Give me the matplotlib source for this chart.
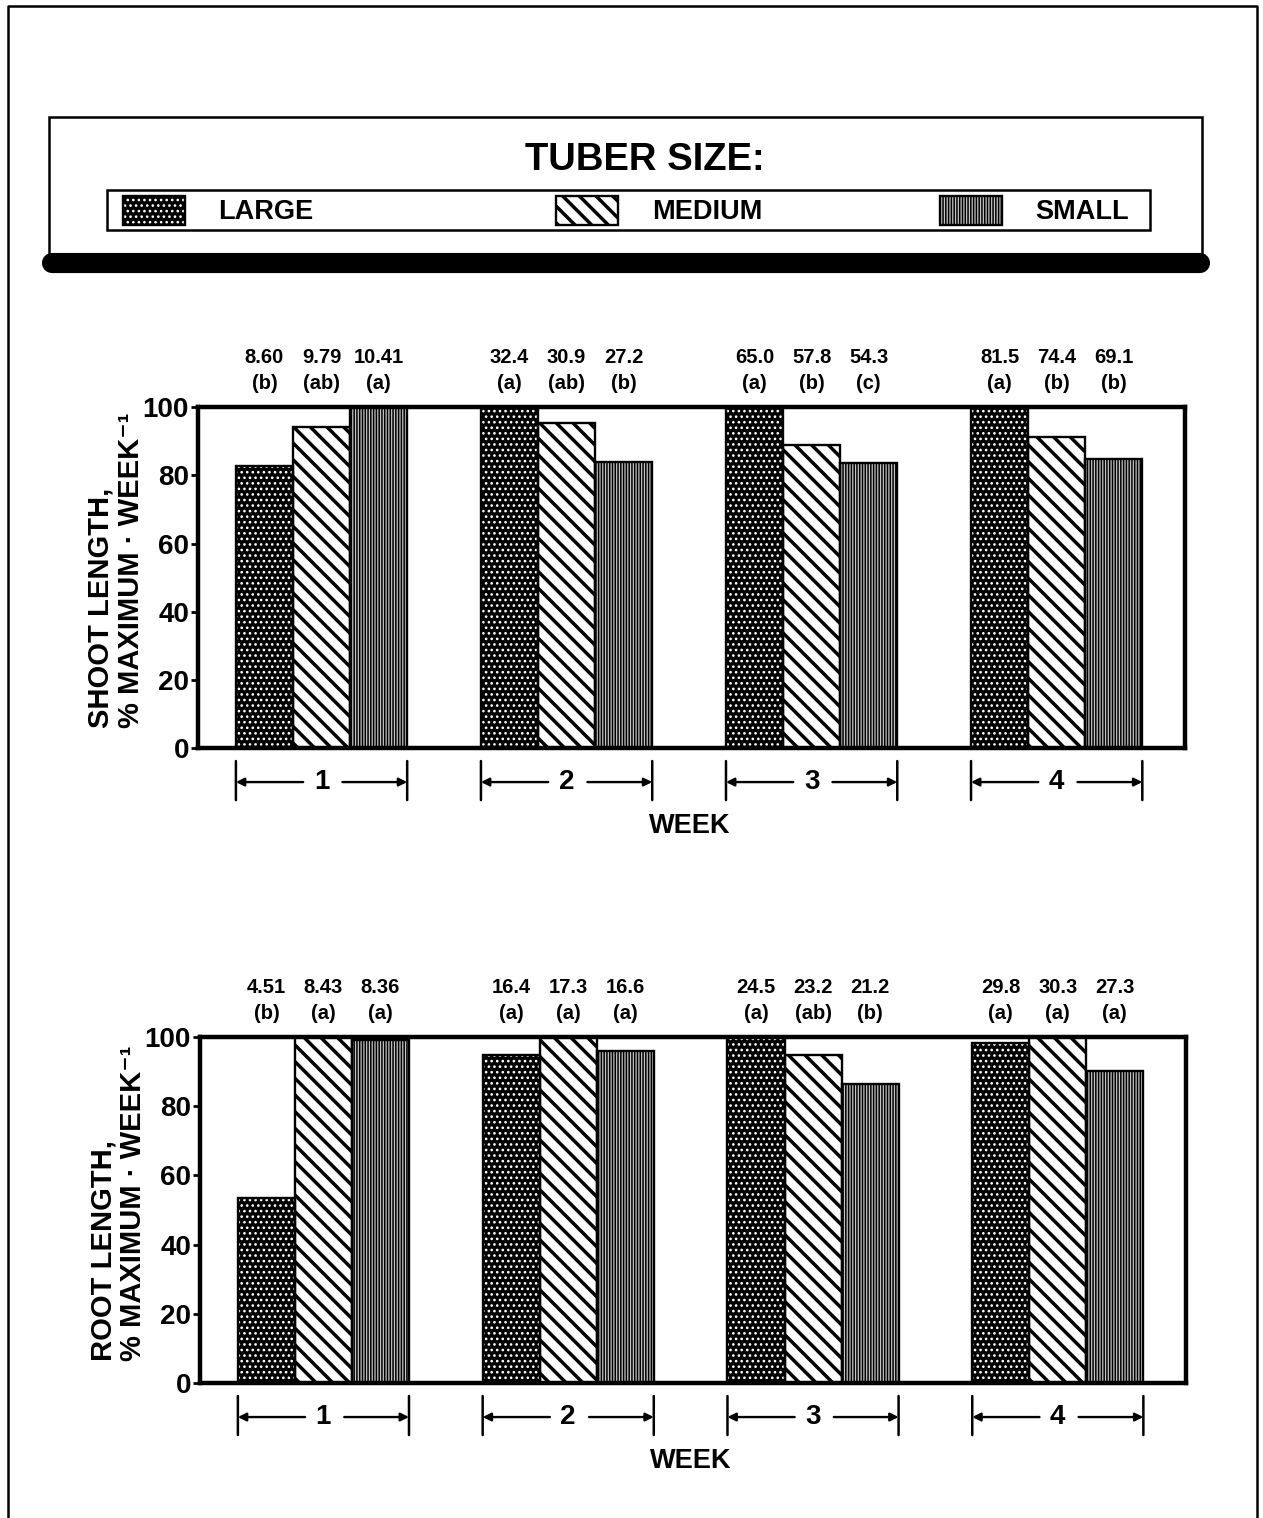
import numpy as np
import matplotlib.pyplot as plt
import matplotlib.transforms as mtransforms
from matplotlib.patches import Rectangle

plt.rcParams['font.family'] = ['Liberation Sans', 'DejaVu Sans']
plt.rcParams['font.weight'] = 'bold'
plt.rcParams['axes.labelweight'] = 'bold'

weeks = ['1', '2', '3', '4']
sizes = ['LARGE', 'MEDIUM', 'SMALL']

# growth rates as printed above the bars
shoot_large = ['8.60', '32.4', '65.0', '81.5']
shoot_medium = ['9.79', '30.9', '57.8', '74.4']
shoot_small = ['10.41', '27.2', '54.3', '69.1']
shoot_sig_large = ['b', 'a', 'a', 'a']
shoot_sig_medium = ['ab', 'ab', 'b', 'b']
shoot_sig_small = ['a', 'b', 'c', 'b']

root_large = ['4.51', '16.4', '24.5', '29.8']
root_medium = ['8.43', '17.3', '23.2', '30.3']
root_small = ['8.36', '16.6', '21.2', '27.3']
root_sig_large = ['b', 'a', 'a', 'a']
root_sig_medium = ['a', 'a', 'ab', 'a']
root_sig_small = ['a', 'a', 'b', 'a']

# fill styles: dotted black, diagonal lines, fine vertical lines
STYLES = [
    dict(facecolor='black', edgecolor='white', hatch='...', hlw=1.1),
    dict(facecolor='white', edgecolor='black', hatch='\\\\', hlw=2.5),
    dict(facecolor='#c4c4c4', edgecolor='black', hatch='||||||', hlw=1.1),
]

W = 0.233


def texture(patch, k):
    if hasattr(patch, 'set_hatch_linewidth'):
        patch.set_hatch_linewidth(STYLES[k]['hlw'])


def panel(ax, raw, sig, ylabel):
    vals = np.array([[float(v) for v in row] for row in raw])
    pct = vals / vals.max(axis=0) * 100
    x = np.arange(len(weeks))
    for k in range(3):
        s = STYLES[k]
        xs = x + (k - 1) * W
        bars = ax.bar(xs, pct[k], W, color=s['facecolor'], edgecolor=s['edgecolor'],
                      hatch=s['hatch'], linewidth=0, zorder=2)
        for b in bars:
            texture(b, k)
        ax.bar(xs, pct[k], W, fill=False, edgecolor='black', linewidth=1.7, zorder=3)
        for xi, txt, lt in zip(xs, raw[k], sig[k]):
            ax.annotate(txt, xy=(xi, 1.0), xycoords=('data', 'axes fraction'),
                        xytext=(0, 36), textcoords='offset points',
                        ha='center', va='center', fontsize=14.5)
            ax.annotate('(%s)' % lt, xy=(xi, 1.0), xycoords=('data', 'axes fraction'),
                        xytext=(0, 17), textcoords='offset points',
                        ha='center', va='center', fontsize=14.5)

    ax.set_xlim(-0.504, 3.524)
    ax.set_ylim(0, 100)
    ax.set_yticks([0, 20, 40, 60, 80, 100])
    ax.set_xticks([])
    ax.tick_params(axis='y', direction='out', length=5, width=2, labelsize=20, pad=1.5)
    for sp in ax.spines.values():
        sp.set_linewidth(3.2)
    ax.set_ylabel(ylabel, fontsize=21, multialignment='left', linespacing=1.08)
    ax.yaxis.set_label_coords(-0.054, 0.52)

    # week brackets below each group
    base = ax.get_xaxis_transform()

    def off(px):
        return mtransforms.offset_copy(base, fig=ax.figure, y=-px, units='dots')

    for g, wk in enumerate(weeks):
        lo, hi = g - 1.5 * W, g + 1.5 * W
        ax.text(g, 0, wk, transform=off(34), ha='center', va='center', fontsize=20)
        for edge, start in ((lo, g - 0.075), (hi, g + 0.085)):
            ax.annotate('', xy=(edge, 0), xycoords=off(34), xytext=(start, 0),
                        textcoords=off(34), annotation_clip=False,
                        arrowprops=dict(arrowstyle='-|>', color='black', lw=1.7,
                                        mutation_scale=12, shrinkA=0, shrinkB=0))
        for edge in (lo, hi):
            ax.annotate('', xy=(edge, 0), xycoords=off(13), xytext=(edge, 0),
                        textcoords=off(52), annotation_clip=False,
                        arrowprops=dict(arrowstyle='-', color='black', lw=1.8,
                                        shrinkA=0, shrinkB=0))
    ax.text(0.498, 0, 'WEEK', transform=mtransforms.offset_copy(
        ax.transAxes, fig=ax.figure, y=-78, units='dots'),
        ha='center', va='center', fontsize=19.5)


fig = plt.figure(figsize=(12.63, 15.18), dpi=100)

# page frame, legend block and heavy rule, drawn in pixel units
bg = fig.add_axes([0, 0, 1, 1])
bg.set_xlim(0, 1263)
bg.set_ylim(1518, 0)
bg.axis('off')
bg.plot([8, 8, 1257, 1257], [1518, 6, 6, 1518], color='black', lw=1.8)
bg.add_patch(Rectangle((49, 117), 1153, 150, fill=False, edgecolor='black', lw=1.8))
bg.plot([52, 1200], [263, 263], color='black', lw=14.5, solid_capstyle='round')
bg.text(645, 160, 'TUBER SIZE:', ha='center', va='center', fontsize=27.5)
bg.add_patch(Rectangle((107, 190), 1043, 40, fill=False, edgecolor='black', lw=1.8))
for k, (name, sx, tx) in enumerate(zip(sizes, [123, 556, 940], [218, 652, 1035])):
    s = STYLES[k]
    p = Rectangle((sx, 196), 62, 29, facecolor=s['facecolor'], edgecolor=s['edgecolor'],
                  hatch=s['hatch'], lw=0)
    texture(p, k)
    bg.add_patch(p)
    bg.add_patch(Rectangle((sx, 196), 62, 29, fill=False, edgecolor='black', lw=1.7))
    bg.text(tx, 212, name, ha='left', va='center', fontsize=19.5)

ax1 = fig.add_axes([0.1568, 0.5072, 0.7815, 0.2246])
panel(ax1, [shoot_large, shoot_medium, shoot_small],
      [shoot_sig_large, shoot_sig_medium, shoot_sig_small],
      'SHOOT LENGTH,\n% MAXIMUM · WEEK\u207b\u00b9')

ax2 = fig.add_axes([0.1584, 0.0889, 0.7807, 0.2279])
panel(ax2, [root_large, root_medium, root_small],
      [root_sig_large, root_sig_medium, root_sig_small],
      'ROOT LENGTH,\n% MAXIMUM · WEEK\u207b\u00b9')

fig.savefig('out.png', dpi=100)
